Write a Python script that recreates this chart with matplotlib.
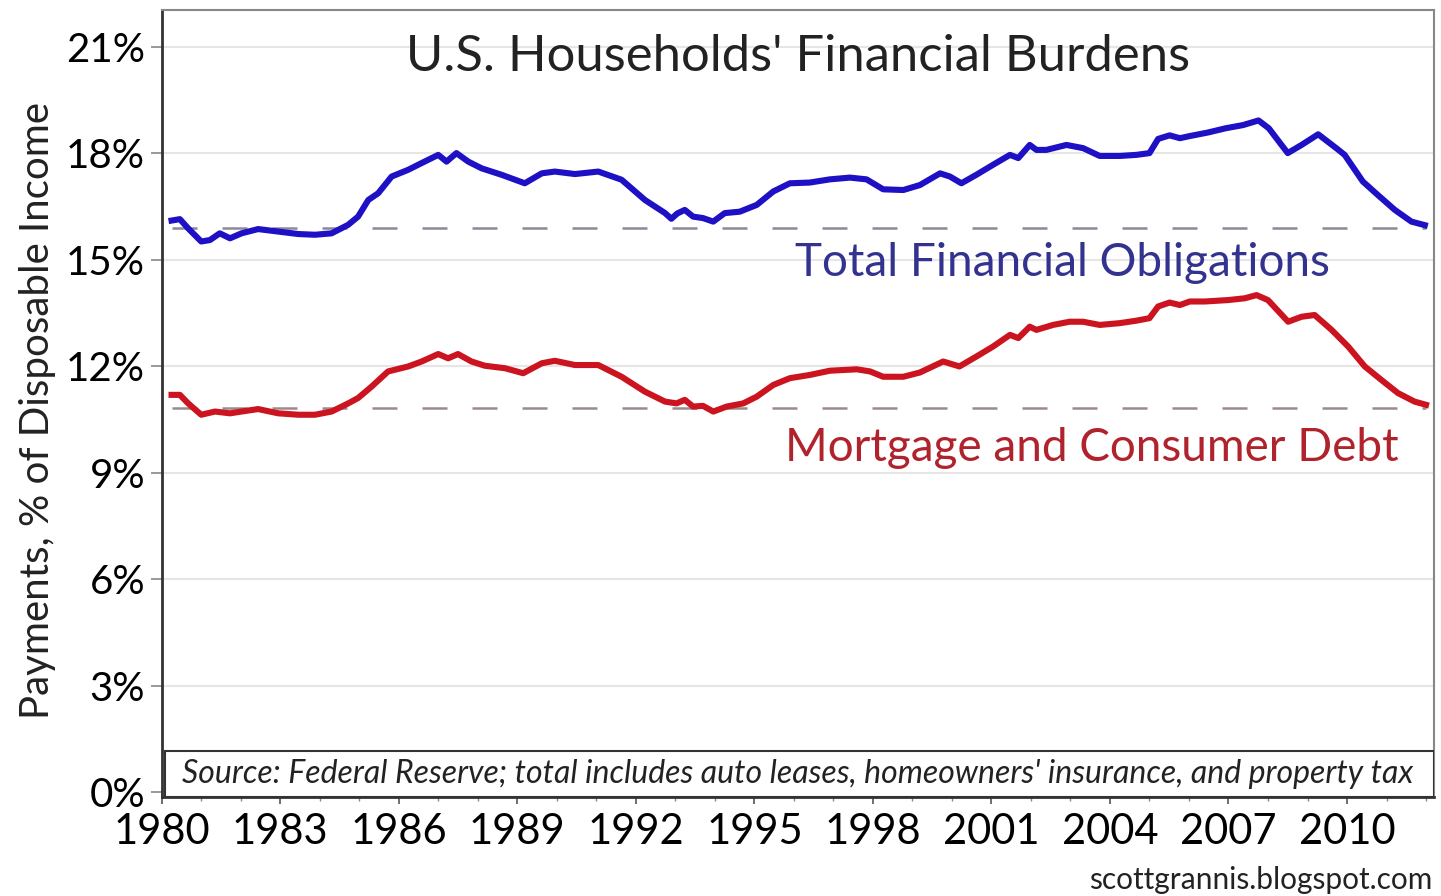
import matplotlib
matplotlib.use('Agg')

import matplotlib.pyplot as plt
from matplotlib.patches import Rectangle
from matplotlib.ticker import MultipleLocator, FuncFormatter

plt.rcParams['font.family'] = ['Lato', 'DejaVu Sans']

total_years = [
    1980.25, 1980.46, 1980.67, 1981.00, 1981.22, 1981.47, 1981.73, 1982.02,
    1982.44, 1982.95, 1983.46, 1983.88, 1984.30, 1984.72, 1984.97, 1985.23,
    1985.48, 1985.82, 1986.24, 1986.58, 1987.00, 1987.21, 1987.46, 1987.76,
    1988.10, 1988.60, 1989.19, 1989.62, 1989.95, 1990.46, 1991.05, 1991.64,
    1992.23, 1992.74, 1992.90, 1993.05, 1993.24, 1993.45, 1993.70, 1993.96,
    1994.25, 1994.63, 1995.06, 1995.48, 1995.90, 1996.40, 1996.91, 1997.42,
    1997.84, 1998.26, 1998.77, 1999.19, 1999.70, 1999.95, 2000.24, 2000.62,
    2001.04, 2001.47, 2001.68, 2001.97, 2002.14, 2002.39, 2002.90, 2003.32,
    2003.74, 2004.25, 2004.67, 2005.00, 2005.22, 2005.51, 2005.77, 2006.02,
    2006.48, 2006.93, 2007.37, 2007.76, 2008.02, 2008.50, 2008.85, 2009.27,
    2009.75, 2009.94, 2010.40, 2010.80, 2011.21, 2011.63, 2011.97
]

total_pct = [
    16.10, 16.14, 15.88, 15.51, 15.55, 15.74, 15.60, 15.74,
    15.86, 15.79, 15.72, 15.70, 15.74, 15.98, 16.21, 16.68,
    16.87, 17.34, 17.53, 17.72, 17.95, 17.76, 18.00, 17.76,
    17.57, 17.39, 17.15, 17.43, 17.48, 17.41, 17.48, 17.25,
    16.68, 16.31, 16.15, 16.30, 16.40, 16.21, 16.17, 16.07,
    16.31, 16.35, 16.54, 16.92, 17.15, 17.17, 17.26, 17.31,
    17.26, 16.98, 16.96, 17.10, 17.43, 17.34, 17.15, 17.39,
    17.67, 17.95, 17.86, 18.23, 18.09, 18.09, 18.23, 18.14,
    17.92, 17.92, 17.95, 18.00, 18.40, 18.50, 18.42, 18.48,
    18.58, 18.70, 18.79, 18.92, 18.70, 18.00, 18.23, 18.53,
    18.12, 17.95, 17.20, 16.80, 16.40, 16.07, 15.97
]

debt_years = [
    1980.25, 1980.46, 1980.67, 1981.00, 1981.35, 1981.73, 1982.02, 1982.44,
    1982.95, 1983.46, 1983.88, 1984.30, 1984.72, 1984.97, 1985.31, 1985.73,
    1986.24, 1986.58, 1987.00, 1987.25, 1987.50, 1987.84, 1988.18, 1988.69,
    1989.15, 1989.62, 1989.95, 1990.46, 1991.05, 1991.64, 1992.23, 1992.74,
    1993.03, 1993.24, 1993.45, 1993.70, 1993.96, 1994.30, 1994.72, 1995.06,
    1995.48, 1995.90, 1996.40, 1996.91, 1997.59, 1997.93, 1998.26, 1998.77,
    1999.19, 1999.78, 2000.19, 2000.62, 2001.04, 2001.47, 2001.68, 2001.97,
    2002.14, 2002.56, 2002.98, 2003.32, 2003.74, 2004.25, 2004.67, 2005.00,
    2005.22, 2005.51, 2005.77, 2006.02, 2006.40, 2006.99, 2007.41, 2007.71,
    2008.00, 2008.51, 2008.85, 2009.18, 2009.61, 2010.03, 2010.45, 2010.87,
    2011.29, 2011.71, 2012.00
]

debt_pct = [
    11.19, 11.19, 10.95, 10.63, 10.72, 10.67, 10.72, 10.79,
    10.67, 10.63, 10.63, 10.72, 10.95, 11.10, 11.42, 11.85,
    11.99, 12.13, 12.34, 12.22, 12.34, 12.13, 12.01, 11.94,
    11.80, 12.08, 12.15, 12.03, 12.03, 11.70, 11.28, 11.00,
    10.95, 11.05, 10.86, 10.88, 10.72, 10.86, 10.95, 11.14,
    11.47, 11.66, 11.75, 11.87, 11.91, 11.85, 11.70, 11.70,
    11.82, 12.13, 11.99, 12.27, 12.55, 12.88, 12.79, 13.11,
    13.02, 13.16, 13.25, 13.25, 13.16, 13.21, 13.28, 13.35,
    13.68, 13.79, 13.72, 13.82, 13.82, 13.86, 13.91, 14.00,
    13.86, 13.25, 13.39, 13.44, 13.02, 12.55, 11.99, 11.61,
    11.24, 11.00, 10.91
]

# current levels shown as dashed reference lines
total_level = 15.9
debt_level = 10.82

fig = plt.figure(figsize=(14.41, 8.96), dpi=100)
ax = fig.add_axes([0.1122, 0.1108, 0.8829, 0.878])

ax.set_xlim(1980, 2012.2)
ax.set_ylim(-0.13, 22.03)

for y in range(3, 22, 3):
    ax.axhline(y, color='#e6e6e6', lw=1.5, zorder=0)

ax.plot([1980.25, 2012.0], [total_level, total_level], color='#8a8a9a',
        lw=1.8, dashes=(10, 10), zorder=1)
ax.plot([1980.25, 2012.0], [debt_level, debt_level], color='#9a8a8a',
        lw=1.8, dashes=(10, 10), zorder=1)

ax.plot(total_years, total_pct, color='#1e10c4', lw=4.4, zorder=3,
        solid_joinstyle='round')
ax.plot(debt_years, debt_pct, color='#cc1420', lw=4.4, zorder=3,
        solid_joinstyle='round')

ax.text(0.5, 0.94, "U.S. Households' Financial Burdens", transform=ax.transAxes,
        ha='center', va='center', fontsize=36.5, color='#222222')
ax.text(0.708, 0.678, 'Total Financial Obligations', transform=ax.transAxes,
        ha='center', va='center', fontsize=33, color='#33338f')
ax.text(0.731, 0.443, 'Mortgage and Consumer Debt', transform=ax.transAxes,
        ha='center', va='center', fontsize=33, color='#b0222c')

ax.add_patch(Rectangle((0.003, 0.0), 0.997, 0.058, transform=ax.transAxes,
                       facecolor='white', edgecolor='#333333', lw=1.5, zorder=4))
ax.text(0.5, 0.029,
        "Source: Federal Reserve; total includes auto leases, homeowners' insurance, and property tax",
        transform=ax.transAxes, ha='center', va='center', fontsize=23,
        style='italic', color='#222222', zorder=5)

ax.xaxis.set_major_locator(MultipleLocator(3))
ax.xaxis.set_minor_locator(MultipleLocator(1))
ax.yaxis.set_major_formatter(FuncFormatter(lambda v, p: '%d%%' % round(v)))
ax.set_yticks(range(0, 22, 3))

ax.tick_params(axis='x', which='major', direction='inout', length=10, width=1.2,
               color='#555555', labelsize=30, pad=7)
ax.tick_params(axis='x', which='minor', direction='inout', length=6, width=1,
               color='#888888')
ax.tick_params(axis='y', which='major', direction='out', length=8, width=1.2,
               color='#888888', labelsize=29, pad=4)

for s in ['left', 'bottom']:
    ax.spines[s].set_color('#333333')
    ax.spines[s].set_linewidth(2)
for s in ['top', 'right']:
    ax.spines[s].set_color('#888888')
    ax.spines[s].set_linewidth(1.5)

fig.text(0.026, 0.542, 'Payments, % of Disposable Income', rotation=90,
         ha='center', va='center', fontsize=29, color='#222222')
fig.text(0.994, 0.018, 'scottgrannis.blogspot.com', ha='right', va='center',
         fontsize=21.5, color='#222222')

plt.savefig('out.png', dpi=100)
